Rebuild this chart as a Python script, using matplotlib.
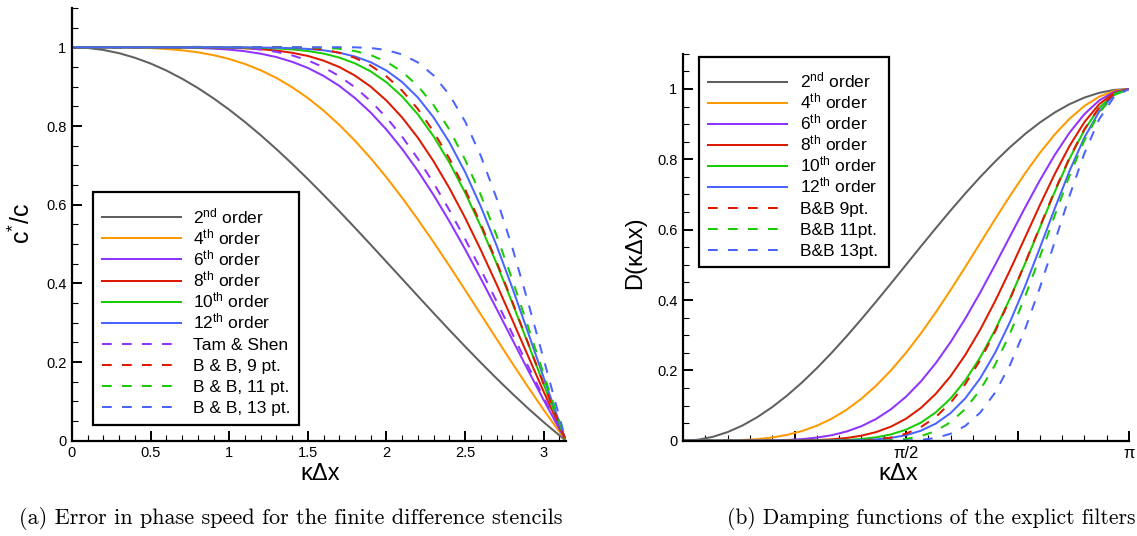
import matplotlib
matplotlib.use('Agg')
import matplotlib.pyplot as plt
from matplotlib.lines import Line2D
from matplotlib.patches import Rectangle
from matplotlib.ticker import FixedLocator, MultipleLocator, FuncFormatter

plt.rcParams['font.family'] = ['Liberation Sans', 'DejaVu Sans']
plt.rcParams['mathtext.fontset'] = 'custom'
plt.rcParams['mathtext.rm'] = 'Liberation Sans'
plt.rcParams['mathtext.it'] = 'Liberation Sans:italic'
plt.rcParams['mathtext.bf'] = 'Liberation Sans:bold'
plt.rcParams['lines.scale_dashes'] = False

# ---------------- panel (a): phase speed ----------------
kdx_a = [0.0, 0.1, 0.2, 0.3, 0.4, 0.5, 0.6, 0.7, 0.8, 0.9, 1.0, 1.1, 1.2, 1.3, 1.4, 1.5,
         1.6, 1.7, 1.8, 1.9, 2.0, 2.1, 2.2, 2.3, 2.4, 2.5, 2.6, 2.7, 2.8, 2.9, 3.0, 3.1, 3.1416]

c_2nd = [1.0, 0.9983, 0.9933, 0.9851, 0.9735, 0.9589, 0.9411, 0.9203, 0.8967, 0.8704, 0.8415,
         0.8102, 0.7767, 0.7412, 0.7039, 0.6650, 0.6247, 0.5834, 0.5411, 0.4981, 0.4546, 0.4111,
         0.3675, 0.3242, 0.2814, 0.2394, 0.1983, 0.1583, 0.1196, 0.0824, 0.0470, 0.0134, 0.0]
c_4th = [1.0, 1.0, 0.9999, 0.9997, 0.9991, 0.9980, 0.9958, 0.9924, 0.9874, 0.9801, 0.9704,
         0.9577, 0.9417, 0.9222, 0.8986, 0.8710, 0.8391, 0.8029, 0.7623, 0.7177, 0.6693, 0.6172,
         0.5621, 0.5043, 0.4445, 0.3831, 0.3210, 0.2588, 0.1971, 0.1367, 0.0782, 0.0224, 0.0]
c_6th = [1.0, 1.0, 1.0, 1.0, 1.0, 0.9999, 0.9996, 0.9992, 0.9984, 0.9967, 0.9942,
         0.9900, 0.9838, 0.9753, 0.9632, 0.9476, 0.9273, 0.9020, 0.8709, 0.8340, 0.7908, 0.7413,
         0.6857, 0.6243, 0.5577, 0.4867, 0.4121, 0.3353, 0.2573, 0.1794, 0.1031, 0.0295, 0.0]
c_8th = [1.0, 1.0, 1.0, 1.0, 1.0, 1.0, 1.0, 1.0, 0.9999, 0.9994, 0.9988,
         0.9975, 0.9953, 0.9919, 0.9862, 0.9781, 0.9662, 0.9499, 0.9281, 0.9000, 0.8646, 0.8214,
         0.7699, 0.7100, 0.6421, 0.5666, 0.4847, 0.3977, 0.3074, 0.2155, 0.1243, 0.0356, 0.0]
c_10th = [1.0, 1.0, 1.0, 1.0, 1.0, 1.0, 1.0, 1.0, 1.0, 1.0, 0.9998,
          0.9994, 0.9986, 0.9973, 0.9947, 0.9906, 0.9841, 0.9740, 0.9592, 0.9388, 0.9111, 0.8749,
          0.8293, 0.7735, 0.7072, 0.6306, 0.5446, 0.4506, 0.3506, 0.2471, 0.1430, 0.0411, 0.0]
c_12th = [1.0, 1.0, 1.0, 1.0, 1.0, 1.0, 1.0, 1.0, 1.0, 1.0, 1.0,
          0.9999, 0.9995, 0.9989, 0.9979, 0.9960, 0.9924, 0.9863, 0.9766, 0.9621, 0.9410, 0.9116,
          0.8722, 0.8216, 0.7586, 0.6830, 0.5951, 0.4963, 0.3888, 0.2754, 0.1599, 0.0460, 0.0]
c_tam = [1.0, 1.0, 1.0, 1.0, 1.0001, 1.0003, 1.0006, 1.0009, 1.0012, 1.0009, 1.0001,
         0.9981, 0.9944, 0.9885, 0.9795, 0.9668, 0.9494, 0.9268, 0.8982, 0.8632, 0.8213, 0.7725,
         0.7167, 0.6544, 0.5861, 0.5126, 0.4350, 0.3545, 0.2724, 0.1901, 0.1093, 0.0313, 0.0]
c_bb9 = [1.0, 1.0, 1.0, 1.0, 1.0, 1.0, 1.0, 1.0, 0.9995, 0.9994, 0.9998,
         1.0002, 1.0006, 1.0010, 1.0005, 0.9986, 0.9943, 0.9862, 0.9731, 0.9536, 0.9262, 0.8897,
         0.8430, 0.7855, 0.7173, 0.6386, 0.5506, 0.4548, 0.3534, 0.2488, 0.1438, 0.0413, 0.0]
c_bb11 = [1.0, 1.0, 1.0, 1.0, 1.0, 1.0, 1.0, 1.0, 1.0, 1.0, 1.0,
          1.0, 0.9999, 1.0, 1.0001, 1.0, 0.9990, 0.9963, 0.9905, 0.9802, 0.9633, 0.9378,
          0.9016, 0.8530, 0.7908, 0.7144, 0.6242, 0.5218, 0.4095, 0.2905, 0.1688, 0.0486, 0.0]
c_bb13 = [1.0, 1.0, 1.0, 1.0, 1.0, 1.0, 1.0, 1.0, 1.0, 1.0, 1.0,
          1.0, 1.0, 1.0, 1.0, 0.9999, 1.0001, 1.0003, 1.0, 0.9983, 0.9931, 0.9819,
          0.9615, 0.9284, 0.8794, 0.8116, 0.7238, 0.6162, 0.4911, 0.3526, 0.2066, 0.0597, 0.0]

labels_a = [r'2$^{\mathrm{nd}}$ order', r'4$^{\mathrm{th}}$ order', r'6$^{\mathrm{th}}$ order',
            r'8$^{\mathrm{th}}$ order', r'10$^{\mathrm{th}}$ order', r'12$^{\mathrm{th}}$ order',
            'Tam & Shen', 'B & B, 9 pt.', 'B & B, 11 pt.', 'B & B, 13 pt.']
series_a = [c_2nd, c_4th, c_6th, c_8th, c_10th, c_12th, c_tam, c_bb9, c_bb11, c_bb13]

# ---------------- panel (b): damping functions ----------------
kdx_b = [0.0, 0.1047, 0.2094, 0.3142, 0.4189, 0.5236, 0.6283, 0.7330, 0.8378, 0.9425,
         1.0472, 1.1519, 1.2566, 1.3614, 1.4661, 1.5708, 1.6755, 1.7802, 1.8850, 1.9897,
         2.0944, 2.1991, 2.3038, 2.4086, 2.5133, 2.6180, 2.7227, 2.8274, 2.9322, 3.0369, 3.1416]

d_2nd = [0.0, 0.0027, 0.0109, 0.0245, 0.0432, 0.0670, 0.0955, 0.1284, 0.1654, 0.2061,
         0.25, 0.2966, 0.3455, 0.3960, 0.4477, 0.5, 0.5523, 0.6040, 0.6545, 0.7034,
         0.75, 0.7939, 0.8346, 0.8716, 0.9045, 0.9330, 0.9568, 0.9755, 0.9891, 0.9973, 1.0]
d_4th = [0.0, 0.0, 0.0001, 0.0006, 0.0019, 0.0045, 0.0091, 0.0165, 0.0274, 0.0425,
         0.0625, 0.0880, 0.1194, 0.1569, 0.2005, 0.25, 0.3050, 0.3648, 0.4284, 0.4947,
         0.5625, 0.6303, 0.6965, 0.7596, 0.8181, 0.8705, 0.9154, 0.9517, 0.9783, 0.9945, 1.0]
d_6th = [0.0, 0.0, 0.0, 0.0, 0.0001, 0.0003, 0.0009, 0.0021, 0.0045, 0.0088,
         0.0156, 0.0261, 0.0412, 0.0621, 0.0898, 0.125, 0.1684, 0.2203, 0.2804, 0.3480,
         0.4219, 0.5004, 0.5813, 0.6621, 0.7400, 0.8122, 0.8758, 0.9284, 0.9676, 0.9918, 1.0]
d_8th = [0.0, 0.0, 0.0, 0.0, 0.0, 0.0, 0.0001, 0.0003, 0.0008, 0.0018,
         0.0039, 0.0077, 0.0143, 0.0246, 0.0402, 0.0625, 0.0930, 0.1331, 0.1835, 0.2448,
         0.3164, 0.3972, 0.4851, 0.5770, 0.6694, 0.7578, 0.8380, 0.9057, 0.9570, 0.9891, 1.0]
d_10th = [0.0, 0.0, 0.0, 0.0, 0.0, 0.0, 0.0, 0.0, 0.0001, 0.0004,
          0.0010, 0.0023, 0.0049, 0.0097, 0.0180, 0.0313, 0.0514, 0.0804, 0.1201, 0.1722,
          0.2373, 0.3154, 0.4049, 0.5029, 0.6054, 0.7070, 0.8018, 0.8835, 0.9466, 0.9864, 1.0]
d_12th = [0.0, 0.0, 0.0, 0.0, 0.0, 0.0, 0.0, 0.0, 0.0, 0.0001,
          0.0002, 0.0007, 0.0017, 0.0039, 0.0081, 0.0156, 0.0284, 0.0485, 0.0786, 0.1211,
          0.1780, 0.2504, 0.3379, 0.4383, 0.5476, 0.6596, 0.7671, 0.8619, 0.9362, 0.9837, 1.0]
d_bb9 = [0.0, 0.0, 0.0001, 0.0002, 0.0003, 0.0006, 0.0010, 0.0012, 0.0014, 0.0013,
         0.0009, 0.0006, 0.0010, 0.0033, 0.0089, 0.0200, 0.0387, 0.0673, 0.1079, 0.1618,
         0.2297, 0.3108, 0.4032, 0.5037, 0.6078, 0.7100, 0.8045, 0.8855, 0.9476, 0.9867, 1.0]
d_bb11 = [0.0, 0.0, 0.0, 0.0, 0.0, 0.0, 0.0, 0.0, 0.0, 0.0,
          0.0, 0.0, 0.0, 0.0003, 0.0015, 0.0050, 0.0128, 0.0276, 0.0526, 0.0908,
          0.1449, 0.2164, 0.3050, 0.4086, 0.5225, 0.6401, 0.7534, 0.8537, 0.9324, 0.9827, 1.0]
d_bb13 = [0.0, 0.0, 0.0, 0.0, 0.0, 0.0, 0.0, 0.0, 0.0, 0.0,
          0.0, 0.0, 0.0, 0.0, 0.0, 0.0005, 0.0023, 0.0077, 0.0198, 0.0424,
          0.0802, 0.1370, 0.2156, 0.3158, 0.4345, 0.5647, 0.6962, 0.8170, 0.9145, 0.9780, 1.0]

labels_b = [r'2$^{\mathrm{nd}}$ order', r'4$^{\mathrm{th}}$ order', r'6$^{\mathrm{th}}$ order',
            r'8$^{\mathrm{th}}$ order', r'10$^{\mathrm{th}}$ order', r'12$^{\mathrm{th}}$ order',
            'B&B 9pt.', 'B&B 11pt.', 'B&B 13pt.']
series_b = [d_2nd, d_4th, d_6th, d_8th, d_10th, d_12th, d_bb9, d_bb11, d_bb13]

ticks_b = [0.0, 0.7854, 1.5708, 2.3562, 3.1416]
ticklabels_b = ['', '', 'π/2', '', 'π']

# ---------------- styling ----------------
GRAY, ORANGE, PURPLE = '#606060', '#FF9900', '#8F33FF'
RED, GREEN, BLUE = '#DD1A00', '#19CC00', '#4A64FF'
colors_a = [GRAY, ORANGE, PURPLE, RED, GREEN, BLUE, PURPLE, RED, GREEN, BLUE]
dashed_a = [False] * 6 + [True] * 4
colors_b = [GRAY, ORANGE, PURPLE, RED, GREEN, BLUE, RED, GREEN, BLUE]
dashed_b = [False] * 6 + [True] * 3

W, H = 1137, 536
LW = 1.45
DASH = (0, (7.0, 7.4))

fig = plt.figure(figsize=(W / 100, H / 100), dpi=100)
axA = fig.add_axes([72 / W, 1 - 440.7 / H, (566 - 72) / W, (440.7 - 8.0) / H])
axB = fig.add_axes([683 / W, 1 - 440.7 / H, (1129 - 683) / W, (440.7 - 53.8) / H])

fmt = lambda v, p: '%g' % round(v, 2)


def style_axes(ax):
    for s in ('top', 'right'):
        ax.spines[s].set_visible(False)
    for s in ('left', 'bottom'):
        ax.spines[s].set_linewidth(1.6)
    ax.tick_params(which='major', direction='in', length=7.5, width=1.4,
                   labelsize=10.5, pad=4, colors='black')
    ax.tick_params(which='minor', direction='in', length=4.5, width=0.8)
    ax.set_ylim(0, 1.1)
    ax.yaxis.set_major_locator(FixedLocator([0, 0.2, 0.4, 0.6, 0.8, 1.0]))
    ax.yaxis.set_minor_locator(MultipleLocator(0.05))
    ax.yaxis.set_major_formatter(FuncFormatter(fmt))


# panel a
for y, c, d in zip(series_a, colors_a, dashed_a):
    axA.plot(kdx_a, y, color=c, lw=LW, linestyle=DASH if d else '-')
style_axes(axA)
axA.set_xlim(0, 3.1416)
axA.xaxis.set_major_locator(FixedLocator([0, 0.5, 1.0, 1.5, 2.0, 2.5, 3.0]))
axA.xaxis.set_minor_locator(MultipleLocator(0.1))
axA.xaxis.set_major_formatter(FuncFormatter(fmt))

# panel b
for y, c, d in zip(series_b, colors_b, dashed_b):
    axB.plot(kdx_b, y, color=c, lw=LW, linestyle=DASH if d else '-')
style_axes(axB)
axB.set_xlim(0, 3.1416)
axB.xaxis.set_major_locator(FixedLocator(ticks_b))
axB.xaxis.set_minor_locator(FixedLocator([i * 3.1416 / 20 for i in range(21)]))
axB.set_xticklabels(ticklabels_b, fontsize=12)


# legends (boxed key with uniform row pitch, as in the original Tecplot output)
def draw_key(box, hx, tx, row0, pitch, labels, colors, dashed):
    x0, y0, x1, y1 = box
    fig.add_artist(Rectangle((x0 / W, 1 - y1 / H), (x1 - x0) / W, (y1 - y0) / H,
                             transform=fig.transFigure, facecolor='white',
                             edgecolor='black', lw=1.6, zorder=5))
    for i, (lab, c, d) in enumerate(zip(labels, colors, dashed)):
        yc = row0 + i * pitch
        fig.add_artist(Line2D([hx[0] / W, hx[1] / W], [1 - yc / H, 1 - yc / H],
                              transform=fig.transFigure, color=c, lw=LW,
                              linestyle=DASH if d else '-', zorder=6))
        fig.text(tx / W, 1 - (yc + 6.0) / H, lab, fontsize=12.5, ha='left',
                 va='baseline', zorder=7)


draw_key((92.7, 191.7, 299.0, 425.0), (101.7, 180.7), 193.0, 217.3, 21.1,
         labels_a, colors_a, dashed_a)
draw_key((699.0, 57.3, 889.0, 267.3), (708.3, 787.3), 800.0, 81.7, 21.04,
         labels_b, colors_b, dashed_b)

# axis labels
fig.text(22 / W, 1 - 224 / H, r'c$^{*}$/c', rotation=90, fontsize=18, ha='center', va='center')
fig.text(635 / W, 1 - 253 / H, 'D(κΔx)', rotation=90, fontsize=17, ha='center', va='center')
fig.text(320 / W, 1 - 474 / H, 'κΔx', fontsize=17, ha='center', va='center')
fig.text(898 / W, 1 - 474 / H, 'κΔx', fontsize=17, ha='center', va='center')

# captions
fig.text(291 / W, 1 - 519 / H, '(a) Error in phase speed for the finite difference stencils',
         family='cmr10', fontsize=16, ha='center', va='center')
fig.text(931 / W, 1 - 519 / H, '(b) Damping functions of the explict filters',
         family='cmr10', fontsize=15.5, ha='center', va='center')

fig.savefig('out.png', dpi=100)
